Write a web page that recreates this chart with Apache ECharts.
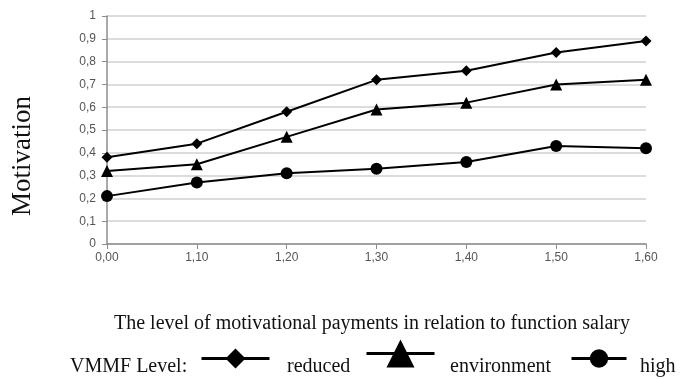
<!DOCTYPE html>
<html><head><meta charset="utf-8">
<script src="https://cdn.jsdelivr.net/npm/echarts@6/dist/echarts.min.js"></script>
<style>html,body{margin:0;padding:0;background:#fff}#c{width:686px;height:379px}</style>
</head><body><div id="c"></div>
<script>
const categories = ['0,00','1,10','1,20','1,30','1,40','1,50','1,60'];
const reduced = [0.38, 0.44, 0.58, 0.72, 0.76, 0.84, 0.89];
const environment = [0.32, 0.35, 0.47, 0.59, 0.62, 0.70, 0.72];
const high = [0.21, 0.27, 0.31, 0.33, 0.36, 0.43, 0.42];
const seriesNames = ['reduced', 'environment', 'high'];
const yTitle = 'Motivation';
const xTitle = 'The level of motivational payments in relation to function salary';
const legendTitle = 'VMMF Level:';

const serif = '"Liberation Serif", "DejaVu Serif", serif';
const sans = '"Liberation Sans", Arial, sans-serif';
const chart = echarts.init(document.getElementById('c'), null, {renderer: 'canvas'});
function ser(name, data, symbol, size) {
  return {
    name, type: 'line', data, symbol, symbolSize: size,
    lineStyle: {color: '#000', width: 2},
    itemStyle: {color: '#000'},
    emphasis: {disabled: true}, animation: false
  };
}
function leg(name, left, top, w, h) {
  return {
    data: [name], left, top, itemWidth: w, itemHeight: h, padding: 0,
    lineStyle: {width: 3, color: '#000'},
    formatter: () => '',
    textStyle: {fontSize: 1},
    selectedMode: false
  };
}
function label(text, x, y, align) {
  return {type: 'text', x, y, style: {text, font: '20px ' + serif, fill: '#111', align: align || 'left', verticalAlign: 'middle'}};
}
chart.setOption({
  animation: false,
  grid: {left: 107, right: 40, top: 16, bottom: 135},
  xAxis: {
    type: 'category', data: categories, boundaryGap: false,
    axisLine: {lineStyle: {color: '#8c8c8c', width: 1.5}},
    axisTick: {show: true, length: 5, lineStyle: {color: '#8c8c8c'}},
    axisLabel: {color: '#555', fontSize: 12, fontFamily: sans, margin: 8},
    splitLine: {show: false}
  },
  yAxis: {
    type: 'value', min: 0, max: 1, interval: 0.1,
    axisLine: {show: true, lineStyle: {color: '#8c8c8c', width: 1.5}},
    axisTick: {show: true, length: 5, lineStyle: {color: '#8c8c8c'}},
    axisLabel: {color: '#555', fontSize: 12, fontFamily: sans, margin: 11,
      formatter: v => (Math.round(v*10)/10).toString().replace('.', ',')},
    splitLine: {lineStyle: {color: '#d0d0d0', width: 1.5}}
  },
  legend: [
    leg(seriesNames[0], 200, 346, 68, 25),
    leg(seriesNames[1], 365, 336, 68, 35),
    leg(seriesNames[2], 570, 347, 55, 23)
  ],
  graphic: [
    label(legendTitle, 70, 367),
    label(seriesNames[0], 287, 367),
    label(seriesNames[1], 450, 367),
    label(seriesNames[2], 640, 367),
    label(xTitle, 372, 324, 'center'),
    {type: 'text', x: 23, y: 156, rotation: Math.PI/2, style: {text: yTitle, font: '27px ' + serif, fill: '#111', align: 'center', verticalAlign: 'middle'}}
  ],
  series: [
    ser(seriesNames[0], reduced, 'diamond', 11),
    ser(seriesNames[1], environment, 'triangle', 12),
    ser(seriesNames[2], high, 'circle', 12)
  ]
});
</script></body></html>
